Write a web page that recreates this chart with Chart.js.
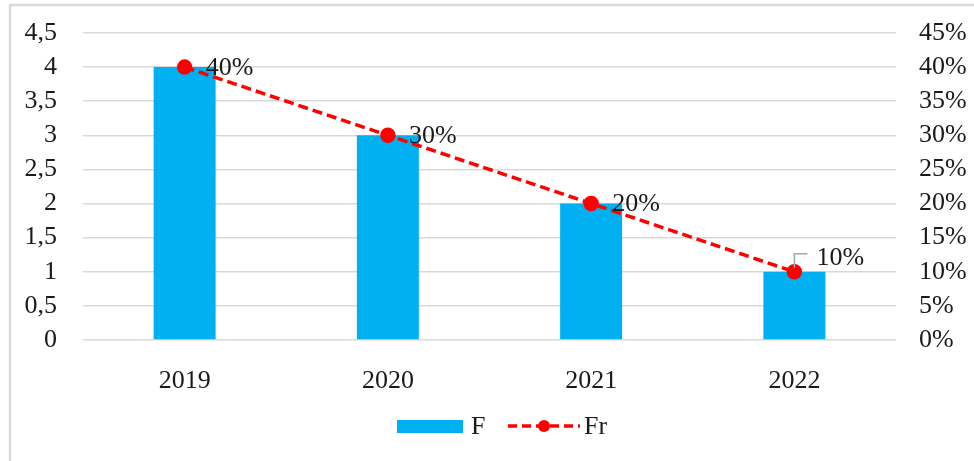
<!DOCTYPE html>
<html>
<head>
<meta charset="utf-8">
<script src="https://cdn.jsdelivr.net/npm/chart.js@4.4.1/dist/chart.umd.min.js"></script>
<style>
  html, body { margin: 0; padding: 0; background: #fff; }
  #wrap { width: 974px; height: 461px; }
</style>
</head>
<body>
<div id="wrap"><canvas id="myChart" width="974" height="461"></canvas></div>
<script>
// years, F counts (left axis) and Fr shares in % (right axis)
var years = ['2019', '2020', '2021', '2022'];
var fValues = [4, 3, 2, 1];
var frValues = [40, 30, 20, 10];

var textColor = '#1a1a1a';
var serif = "'Liberation Serif', 'Times New Roman', serif";

// light frame around the chart
var framePlugin = {
  id: 'frame',
  beforeDraw: function (chart) {
    var c = chart.ctx;
    c.save();
    c.strokeStyle = '#d9d9d9';
    c.lineWidth = 2.5;
    c.strokeRect(10, 5, 1200, 1200);
    c.restore();
  }
};

// percentage labels next to the Fr points
var labelPlugin = {
  id: 'frLabels',
  afterDatasetsDraw: function (chart) {
    var c = chart.ctx;
    var meta = chart.getDatasetMeta(1);
    c.save();
    c.font = '26px ' + serif;
    c.fillStyle = textColor;
    c.textBaseline = 'middle';
    c.textAlign = 'left';
    meta.data.forEach(function (pt, i) {
      var txt = frValues[i] + '%';
      if (i === meta.data.length - 1) {
        // last label sits above, with a leader line
        c.strokeStyle = '#a6a6a6';
        c.lineWidth = 1.5;
        c.beginPath();
        c.moveTo(pt.x, pt.y - 4);
        c.lineTo(pt.x, pt.y - 18);
        c.lineTo(pt.x + 13, pt.y - 18);
        c.stroke();
        c.fillText(txt, pt.x + 22, pt.y - 14);
      } else {
        c.fillText(txt, pt.x + 21, pt.y + 1);
      }
    });
    c.restore();
  }
};

// legend at the bottom: bar swatch, dashed line with dot
var legendPlugin = {
  id: 'bottomLegend',
  afterDraw: function (chart) {
    var c = chart.ctx;
    var y = 426;
    c.save();
    c.fillStyle = '#00b0f0';
    c.fillRect(397, y - 6, 66, 13);
    c.strokeStyle = '#ff0000';
    c.lineWidth = 3.5;
    c.setLineDash([9, 5]);
    c.beginPath();
    c.moveTo(508, y);
    c.lineTo(580, y);
    c.stroke();
    c.setLineDash([]);
    c.fillStyle = '#ff0000';
    c.beginPath();
    c.arc(544, y, 6, 0, Math.PI * 2);
    c.fill();
    c.font = '26px ' + serif;
    c.fillStyle = textColor;
    c.textBaseline = 'middle';
    c.fillText(chart.data.datasets[0].label, 471, y + 1);
    c.fillText(chart.data.datasets[1].label, 584, y + 1);
    c.restore();
  }
};

var tickFont = { family: serif, size: 26, lineHeight: 1 };

var ctx = document.getElementById('myChart').getContext('2d');
var myChart = new Chart(ctx, {
  data: {
    labels: years,
    datasets: [{
      type: 'bar',
      label: 'F',
      data: fValues,
      backgroundColor: '#00b0f0',
      barPercentage: 0.305,
      categoryPercentage: 1,
      yAxisID: 'y',
      order: 1
    }, {
      type: 'line',
      label: 'Fr',
      data: frValues,
      borderColor: '#ff0000',
      backgroundColor: '#ff0000',
      borderWidth: 3.5,
      borderDash: [10, 5],
      pointRadius: 6,
      pointBackgroundColor: '#ff0000',
      pointBorderColor: '#ff0000',
      fill: false,
      tension: 0,
      yAxisID: 'y1',
      order: 0
    }]
  },
  options: {
    responsive: false,
    animation: false,
    layout: { padding: { top: 33, bottom: 61, left: 0, right: 0 } },
    plugins: {
      legend: { display: false },
      tooltip: { enabled: false }
    },
    scales: {
      x: {
        grid: { display: false },
        border: { display: false },
        ticks: { color: textColor, font: tickFont, padding: 20 },
        afterFit: function (s) { s.height = 60; }
      },
      y: {
        position: 'left',
        min: 0,
        max: 4.5,
        border: { display: false },
        // invisible tick marks keep the labels off the plot
        grid: { color: '#d9d9d9', lineWidth: 1.5, tickLength: 26, tickColor: 'rgba(0,0,0,0)' },
        ticks: {
          stepSize: 0.5,
          autoSkip: false,
          maxTicksLimit: 20,
          color: textColor,
          font: tickFont,
          padding: 0,
          callback: function (v) { return String(v).replace('.', ','); }
        },
        afterFit: function (s) { s.width = 83; }
      },
      y1: {
        position: 'right',
        min: 0,
        max: 45,
        border: { display: false },
        grid: { drawOnChartArea: false, tickLength: 23, tickColor: 'rgba(0,0,0,0)' },
        ticks: {
          stepSize: 5,
          autoSkip: false,
          maxTicksLimit: 20,
          color: textColor,
          font: tickFont,
          padding: 0,
          callback: function (v) { return v + '%'; }
        },
        afterFit: function (s) { s.width = 78; }
      }
    }
  },
  plugins: [framePlugin, labelPlugin, legendPlugin]
});
</script>
</body>
</html>
